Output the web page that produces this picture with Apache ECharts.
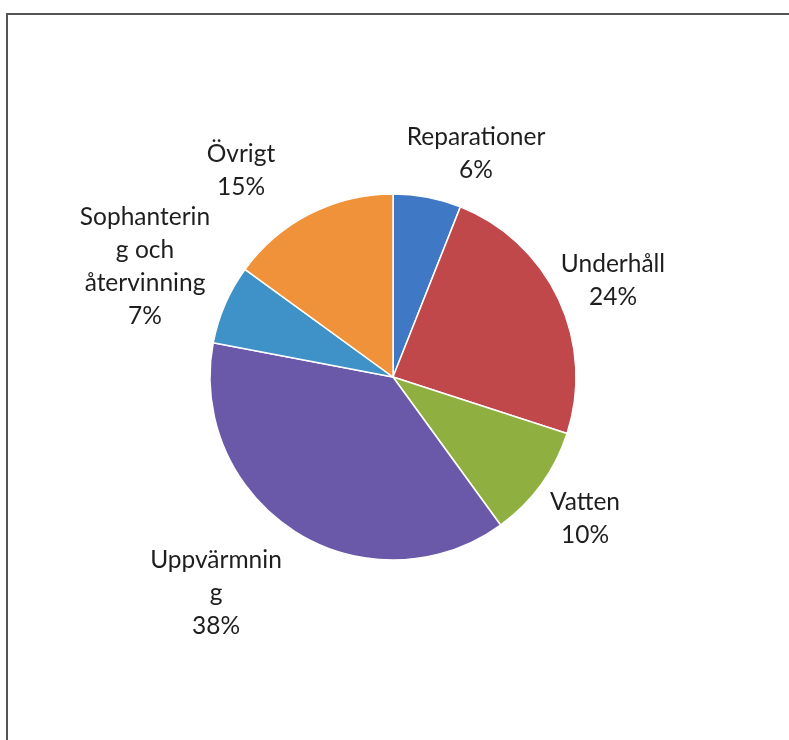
<!DOCTYPE html>
<html lang="sv">
<head>
    <meta charset="utf-8">
    <title>Kostnader</title>
    <script src="https://cdn.jsdelivr.net/npm/echarts@6/dist/echarts.min.js"></script>
    <style>
        html, body { margin: 0; padding: 0; background: #fff; overflow: hidden; }
        #chartPie { width: 789px; height: 740px; }
    </style>
</head>
<body>
<div id="chartPie"></div>

<script>
    // kategorier och andelar (%)
    var categories = ['Reparationer', 'Underhåll', 'Vatten', 'Uppvärmning', 'Sophantering och återvinning', 'Övrigt'];
    var labelTexts = ['Reparationer', 'Underhåll', 'Vatten', 'Uppvärmnin\ng', 'Sophanterin\ng och\nåtervinning', 'Övrigt'];
    var shares = [6, 24, 10, 38, 7, 15];

    var colors = ['#3f78c4', '#c0474a', '#8fb041', '#6a58a8', '#3e92c8', '#f0923a'];

    // etikettplacering relativt pajens mitt (px)
    var cx = 393, cy = 377;
    var labelOffset = [[83, -223], [220, -96], [192, 142], [-177, 216], [-248, -110], [-152, -206]];

    var chartPie = echarts.init(document.getElementById('chartPie'));
    chartPie.setOption({
        animation: false,
        color: colors,
        // ramen (vänster- och överkant)
        graphic: [{
            type: 'polyline',
            shape: { points: [[7, 740], [7, 14], [789, 14]] },
            style: { stroke: '#555', lineWidth: 2, fill: null }
        }],
        series: [{
            type: 'pie',
            center: [cx, cy],
            radius: 183,
            startAngle: 90,
            clockwise: true,
            itemStyle: { borderColor: '#fff', borderWidth: 1.5 },
            label: {
                show: true,
                position: 'outside',
                fontFamily: 'Lato',
                fontSize: 24.5,
                lineHeight: 33,
                color: '#1e1e1e',
                align: 'center',
                formatter: function (p) {
                    return labelTexts[p.dataIndex] + '\n' + p.value + '%';
                }
            },
            labelLine: { show: false },
            labelLayout: function (p) {
                var o = labelOffset[p.dataIndex];
                return { x: cx + o[0], y: cy + o[1], align: 'center', verticalAlign: 'middle' };
            },
            data: categories.map(function (c, i) {
                return { name: c, value: shares[i] };
            })
        }]
    });
</script>
</body>
</html>
